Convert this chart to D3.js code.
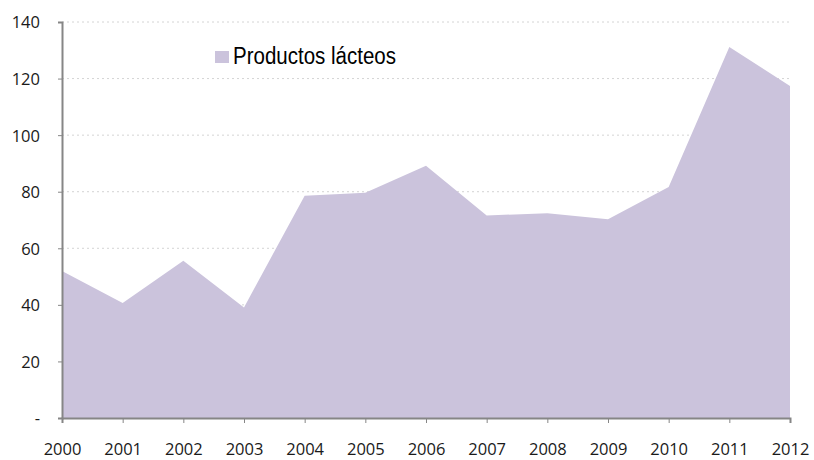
<!DOCTYPE html>
<html>
<head>
<meta charset="utf-8">
<script src="https://cdn.jsdelivr.net/npm/d3@7"></script>
<style>
  body { margin: 0; background: #fff; }
  svg { display: block; }
  .tick text { font-family: "Open Sans", "DejaVu Sans", sans-serif; font-size: 16.5px; fill: #1a1a1a; }
</style>
</head>
<body>
<svg id="chart" width="814" height="460"></svg>
<script>
const years = [2000, 2001, 2002, 2003, 2004, 2005, 2006, 2007, 2008, 2009, 2010, 2011, 2012];
const lacteos = [52.0, 40.7, 55.6, 39.1, 78.6, 79.6, 89.2, 71.6, 72.4, 70.3, 81.7, 131.2, 117.4];
const yTicks = [0, 20, 40, 60, 80, 100, 120, 140];
const seriesName = "Productos lácteos";

const svg = d3.select("#chart");
const x = d3.scaleLinear().domain([2000, 2012]).range([62, 790]);
const y = d3.scaleLinear().domain([0, 140]).range([418, 22]);
const axisColor = "#868686";

// dotted grid
svg.append("g").selectAll("line")
  .data(yTicks.filter(d => d > 0))
  .join("line")
  .attr("x1", x(2000)).attr("x2", x(2012))
  .attr("y1", d => y(d)).attr("y2", d => y(d))
  .attr("stroke", "#d4d4d4")
  .attr("stroke-dasharray", "2,3");

// area
const rows = years.map((yr, i) => ({year: yr, v: lacteos[i]}));
const area = d3.area()
  .x(d => x(d.year))
  .y0(y(0))
  .y1(d => y(d.v));
svg.append("path")
  .attr("d", area(rows))
  .attr("fill", "#cbc3dc");

// y axis
const yAxis = svg.append("g")
  .attr("transform", `translate(${x(2000)},0)`)
  .call(d3.axisLeft(y).tickValues(yTicks).tickSize(4).tickPadding(18)
    .tickFormat(d => d === 0 ? "-" : d));
yAxis.select(".domain").attr("stroke", axisColor).attr("stroke-width", 2);
yAxis.selectAll(".tick line").attr("stroke", axisColor);
yAxis.selectAll(".tick text").attr("dy", "0.36em");

// x axis
const xAxis = svg.append("g")
  .attr("transform", `translate(0,${y(0)})`)
  .call(d3.axisBottom(x).tickValues(years).tickSize(5).tickFormat(d3.format("d")));
xAxis.select(".domain").attr("stroke", axisColor).attr("stroke-width", 2);
xAxis.selectAll(".tick line").attr("stroke", axisColor);
xAxis.selectAll(".tick text").attr("y", 37).attr("dy", 0);

// legend
const legend = svg.append("g");
legend.append("rect")
  .attr("x", 215).attr("y", 51)
  .attr("width", 14).attr("height", 12)
  .attr("fill", "#cbc3dc");
legend.append("text")
  .attr("x", 233).attr("y", 64.3)
  .attr("textLength", 163)
  .attr("lengthAdjust", "spacingAndGlyphs")
  .style("font-family", "'Liberation Sans Narrow', 'Arial Narrow', sans-serif")
  .style("font-size", "23px")
  .attr("fill", "#000")
  .text(seriesName);
</script>
</body>
</html>
